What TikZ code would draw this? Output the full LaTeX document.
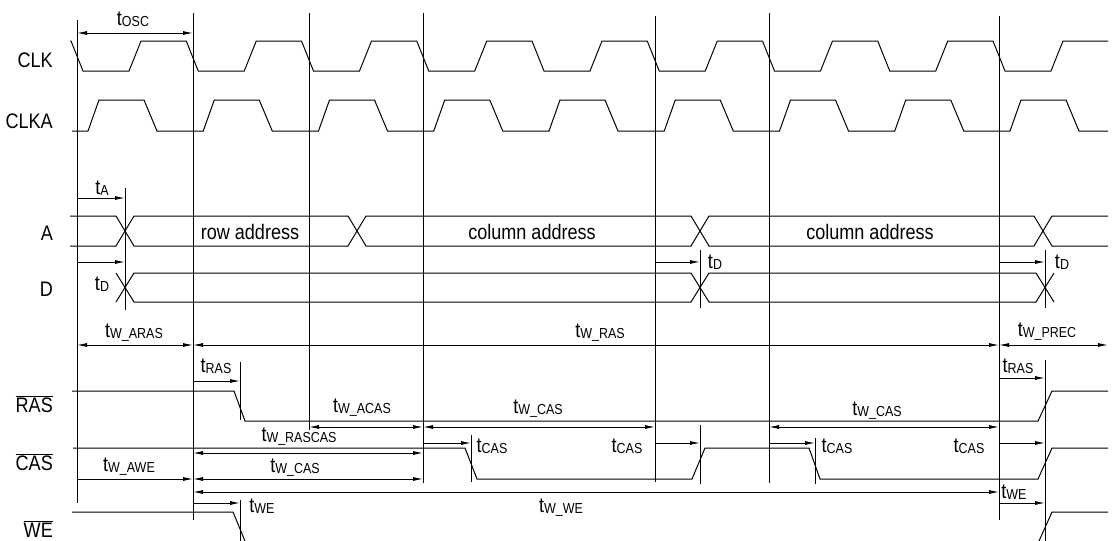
\documentclass[tikz,border=0pt]{standalone}
\usepackage{fontspec}
\setmainfont{Liberation Sans}[FakeStretch=0.86]
\usetikzlibrary{arrows.meta}

\newcommand{\tsub}[1]{t\raisebox{-1.5pt}{\fontsize{14.5}{15}\selectfont #1}}
\newcommand{\ovl}[1]{$\overline{\hbox{#1}}$}

\begin{document}
\begin{tikzpicture}[x=1pt, y=-1pt,
  sig/.style={line width=1pt},
  gridline/.style={line width=0.9pt},
  both/.style={line width=0.9pt, {Latex[length=10pt,width=4pt]}-{Latex[length=10pt,width=4pt]}},
  one/.style={line width=0.9pt, -{Latex[length=10pt,width=4pt]}},
  lbl/.style={anchor=base, inner sep=0pt, font=\fontsize{21}{25}\selectfont},
  signame/.style={anchor=base east, inner sep=0pt, font=\fontsize{21}{25}\selectfont}]

  \useasboundingbox (0,0) rectangle (1112,541);

  % Reference lines (falling CLK edges)
  \foreach \n/\x in {0/77, 1/193, 2/309, 3/423, 5/655, 6/769, 8/999}
    \coordinate (g\n) at (\x,0);
  \draw[gridline] (g0 |- 0,20) -- (g0 |- 0,503);
  \draw[gridline] (g1 |- 0,13) -- (g1 |- 0,520);
  \draw[gridline] (g2 |- 0,13) -- (g2 |- 0,430);
  \draw[gridline] (g3 |- 0,13) -- (g3 |- 0,483);
  \draw[gridline] (g5 |- 0,16) -- (g5 |- 0,482);
  \draw[gridline] (g6 |- 0,13) -- (g6 |- 0,483);
  \draw[gridline] (g8 |- 0,16) -- (g8 |- 0,520);

  % Delay markers
  \coordinate (mA) at (125,0);
  \coordinate (mR) at (240,0);
  \coordinate (mC1) at (471,0);
  \coordinate (mC2) at (700,0);
  \coordinate (mC3) at (815,0);
  \coordinate (mP) at (1045,0);
  \draw[gridline] (mA |- 0,188) -- (mA |- 0,310);
  \draw[gridline] (mR |- 0,362) -- (mR |- 0,420);
  \draw[gridline] (mR |- 0,500) -- (mR |- 0,541);
  \draw[gridline] (mC1 |- 0,435) -- (mC1 |- 0,482);
  \draw[gridline] (mC2 |- 0,250) -- (mC2 |- 0,308);
  \draw[gridline] (mC2 |- 0,425) -- (mC2 |- 0,484);
  \draw[gridline] (mC3 |- 0,438) -- (mC3 |- 0,484);
  \draw[gridline] (mP |- 0,250) -- (mP |- 0,308);
  \draw[gridline] (mP |- 0,360) -- (mP |- 0,541);

  % Signal names
  \node[signame] (nclk) at (53,67) {CLK};
  \node[signame] (nclka) at (53,128) {CLKA};
  \node[signame] (na) at (53,240) {A};
  \node[signame] (nd) at (53,296) {D};
  \node[signame] (nras) at (53,412) {\ovl{RAS}};
  \node[signame] (ncas) at (53,470) {\ovl{CAS}};
  \node[signame] (nwe) at (53,537) {\ovl{WE}};

  % CLK and CLKA
  \draw[sig] (70,41) foreach[evaluate=\k as \g using 77+115.25*\k] \k in {0,...,8} {
      -- (\g-6,41) -- (\g+6,71) -- (\g+52,71) -- (\g+64,41)} -- (1108,41);
  \draw[sig] (72,131) foreach[evaluate=\k as \g using 77+115.25*\k] \k in {0,...,8} {
      -- (\g+11,131) -- (\g+22,100) -- (\g+67,100) -- (\g+80,131)} -- (1108,131);

  % A bus
  \draw[sig] (70,216) -- (116,216) -- (125,231) -- (116,246) -- (70,246);
  \draw[sig] (125,231) -- (134,216) -- (348,216) -- (357,231) -- (348,246) -- (134,246) -- cycle;
  \draw[sig] (357,231) -- (366,216) -- (691,216) -- (700,231) -- (691,246) -- (366,246) -- cycle;
  \draw[sig] (700,231) -- (709,216) -- (1034,216) -- (1043,231) -- (1034,246) -- (709,246) -- cycle;
  \draw[sig] (1043,231) -- (1052,216) -- (1108,216);
  \draw[sig] (1043,231) -- (1052,246) -- (1108,246);
  \node[lbl] (row) at (250,239) {row address};
  \node[lbl] (col1) at (532,239) {column address};
  \node[lbl] (col2) at (870,239) {column address};

  % D bus
  \draw[sig] (116,273) -- (125,287.5) -- (116,302);
  \draw[sig] (125,287.5) -- (134,273) -- (691,273) -- (700,287.5) -- (691,302) -- (134,302) -- cycle;
  \draw[sig] (700,287.5) -- (709,273) -- (1036,273) -- (1045,287.5) -- (1036,302) -- (709,302) -- cycle;
  \draw[sig] (1045,287.5) -- (1054,273);
  \draw[sig] (1045,287.5) -- (1054,302);

  % RAS, CAS, WE
  \draw[sig] (72,391) -- (234,391) -- (245,421) -- (1038,421) -- (1052,391) -- (1108,391);
  \draw[sig] (73,448) -- (465,448) -- (477,479) -- (692,479) -- (705,448) -- (809,448)
    -- (820,479) -- (1038,479) -- (1052,448) -- (1108,448);
  \draw[sig] (72,512) -- (233,512) -- (245,541);
  \draw[sig] (1039,541) -- (1052,512) -- (1108,512);

  % Timing arrows
  \draw[both] (g0 |- 0,33) -- (g1 |- 0,33);
  \node[lbl] (tosc) at (133,25) {\tsub{OSC}};
  \draw[one] (g0 |- 0,198) -- (mA |- 0,198);
  \node[lbl] (ta) at (102,194) {\tsub{A}};
  \draw[one] (g0 |- 0,262) -- (mA |- 0,262);
  \node[lbl] (td1) at (102,290) {\tsub{D}};
  \draw[one] (g5 |- 0,262) -- (mC2 |- 0,262);
  \node[lbl] (td2) at (715,268) {\tsub{D}};
  \draw[one] (g8 |- 0,262) -- (mP |- 0,262);
  \node[lbl] (td3) at (1062,268) {\tsub{D}};

  \draw[both] (g0 |- 0,345) -- (g1 |- 0,345);
  \node[lbl] (twaras) at (134,337) {\tsub{W\_ARAS}};
  \draw[both] (g1 |- 0,345) -- (g8 |- 0,345);
  \node[lbl] (twras) at (600,337) {\tsub{W\_RAS}};
  \draw[both] (g8 |- 0,345) -- (1108,345);
  \node[lbl] (twprec) at (1047,336) {\tsub{W\_PREC}};

  \draw[one] (g1 |- 0,381) -- (mR |- 0,381);
  \node[lbl] (tras1) at (216,372) {\tsub{RAS}};
  \draw[one] (g8 |- 0,378) -- (mP |- 0,378);
  \node[lbl] (tras2) at (1018,372) {\tsub{RAS}};

  \draw[both] (g2 |- 0,427) -- (g3 |- 0,427);
  \node[lbl] (twacas) at (362,412) {\tsub{W\_ACAS}};
  \draw[both] (g3 |- 0,427) -- (g5 |- 0,427);
  \node[lbl] (twcas1) at (538,413) {\tsub{W\_CAS}};
  \draw[both] (g6 |- 0,427) -- (g8 |- 0,427);
  \node[lbl] (twcas2) at (877,415) {\tsub{W\_CAS}};
  \draw[both] (g1 |- 0,453) -- (g3 |- 0,453);
  \node[lbl] (twrascas) at (299,441) {\tsub{W\_RASCAS}};

  \draw[one] (g3 |- 0,443) -- (mC1 |- 0,443);
  \node[lbl] (tcas1) at (492,452) {\tsub{CAS}};
  \draw[one] (g5 |- 0,443) -- (mC2 |- 0,443);
  \node[lbl] (tcas2) at (627,452) {\tsub{CAS}};
  \draw[one] (g6 |- 0,443) -- (mC3 |- 0,443);
  \node[lbl] (tcas3) at (837,452) {\tsub{CAS}};
  \draw[one] (g8 |- 0,443) -- (mP |- 0,443);
  \node[lbl] (tcas4) at (969,452) {\tsub{CAS}};

  \draw[one] (g0 |- 0,479) -- (g1 |- 0,479);
  \node[lbl] (twawe) at (129,471) {\tsub{W\_AWE}};
  \draw[both] (g1 |- 0,479) -- (g3 |- 0,479);
  \node[lbl] (twcas3) at (295,472) {\tsub{W\_CAS}};
  \draw[both] (g1 |- 0,492) -- (g8 |- 0,492);
  \node[lbl] (twwe) at (561,512) {\tsub{W\_WE}};
  \draw[one] (g1 |- 0,503) -- (mR |- 0,503);
  \node[lbl] (twe1) at (262,512) {\tsub{WE}};
  \draw[one] (g8 |- 0,503) -- (mP |- 0,503);
  \node[lbl] (twe2) at (1014,498) {\tsub{WE}};

\end{tikzpicture}
\end{document}
